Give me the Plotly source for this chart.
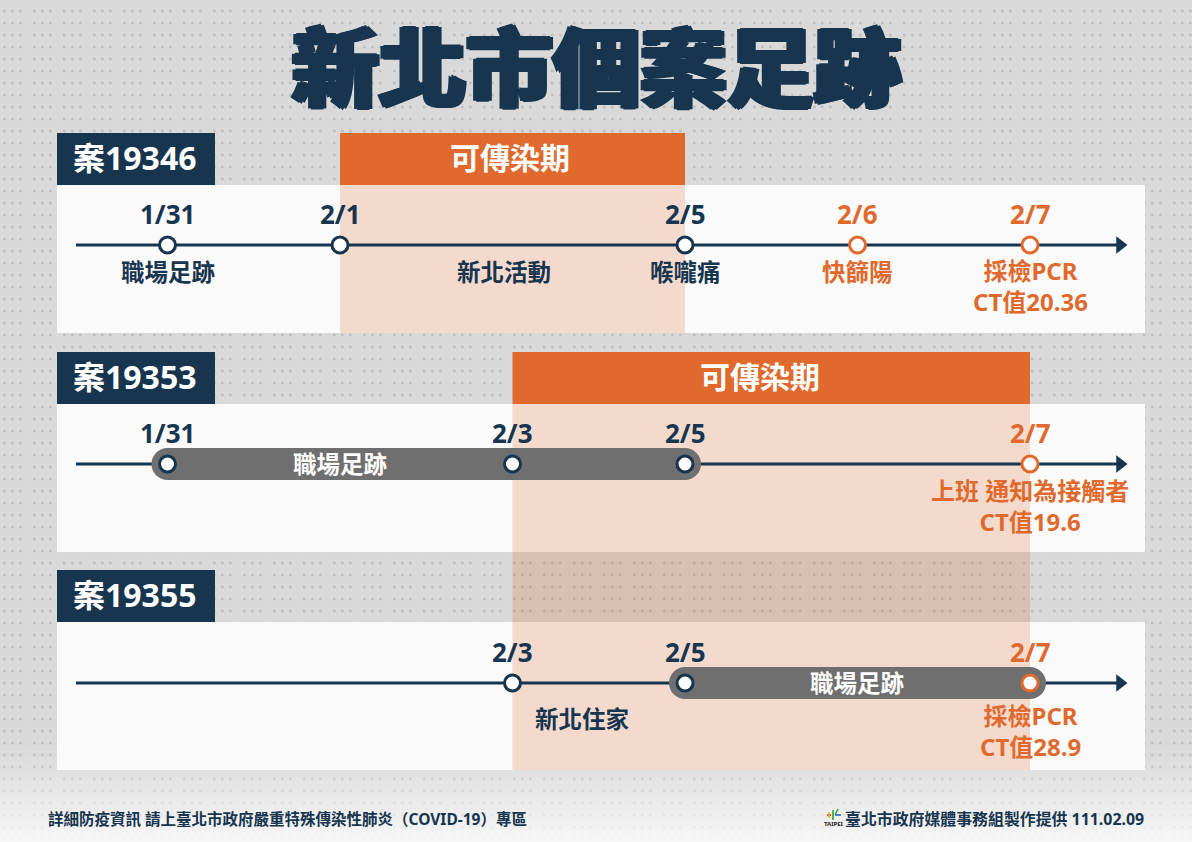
# 新北市個案足跡 timeline infographic
import plotly.graph_objects as go

# Colours
NAVY = "#17354F"
ORANGE = "#E06A2E"
GRAY_PILL = "#6F6F6F"
BG = "#D9D9D9"
PANEL = "#FAFAFA"
BAND = "rgba(224,106,46,0.225)"
DOTS = "#BEBEBE"
FONT = "Noto Sans, Noto Sans CJK TC"

# Data
TITLE = "新北市個案足跡"
BAND_LABEL = "可傳染期"
AXIS_DATES = ["1/31", "2/1", "2/3", "2/5", "2/6", "2/7"]

case_names = ["案19346", "案19353", "案19355"]
case_dates = [
    ["1/31", "2/1", "2/5", "2/6", "2/7"],
    ["1/31", "2/3", "2/5", "2/7"],
    ["2/3", "2/5", "2/7"],
]
# dates whose result came after the infectious window are orange
case_orange = [["2/6", "2/7"], ["2/7"], ["2/7"]]
band_start = ["2/1", "2/3", "2/3"]
band_end = ["2/5", "2/7", "2/7"]
pill_start = [None, "1/31", "2/5"]
pill_end = [None, "2/5", "2/7"]
pill_label = [None, "職場足跡", "職場足跡"]

case1_events = ["職場足跡", "新北活動", "喉嚨痛", "快篩陽", "採檢PCR<br>CT值20.36"]
case2_events = ["上班 通知為接觸者<br>CT值19.6"]
case3_events = ["新北住家", "採檢PCR<br>CT值28.9"]

FOOT_LEFT = "詳細防疫資訊 請上臺北市政府嚴重特殊傳染性肺炎（COVID-19）專區"
FOOT_RIGHT = "臺北市政府媒體事務組製作提供 111.02.09"

# Layout constants (pixels)
W, H = 1192, 842
SLOT0_PX, SLOT_PX = 167.5, 172.5
ROW_Y = [245, 464, 683]
TAG_TOP = [133, 352, 570]
TAG_H = 52
PANEL_H = 148
PANEL_L, PANEL_R = 57, 1145
TAG_R = 215
LINE_L, LINE_R = 76, 1120
PILL_LABEL_PX = [None, 340, 857]
BAND_LABEL_PX = [510, 760]


def slot(date):
    return AXIS_DATES.index(date)


def to_x(px):
    return (px - SLOT0_PX) / SLOT_PX


shapes = []
annotations = []


def rect(x0, x1, y0, y1, color):
    shapes.append(dict(type="rect", xref="x", yref="y", x0=x0, x1=x1, y0=y0, y1=y1,
                       fillcolor=color, line_width=0, layer="below"))


def label(px_or_x, y, text, size, color, xanchor="center", weight=700, in_px=True):
    x = to_x(px_or_x) if in_px else px_or_x
    annotations.append(dict(x=x, y=y, xref="x", yref="y", text=text, showarrow=False,
                            xanchor=xanchor, yanchor="middle", borderpad=0,
                            font=dict(family=FONT, size=size, color=color, weight=weight)))


# dotted background, groups of three dots
dot_path = ""
for k in range(70):
    y = 11 + 12 * k
    dot_path += f"M{to_x(3)},{y}L{to_x(W)},{y}"
shapes.append(dict(type="path", path=dot_path, xref="x", yref="y", layer="below",
                   line=dict(color=DOTS, width=2.6, dash="2.6px,5.4px,2.6px,5.4px,2.6px,11.4px")))

# bottom of the page fades to white
for i in range(24):
    rect(to_x(0), to_x(W), 746 + i * 4, 750 + i * 4 if i < 23 else H, f"rgba(255,255,255,{0.03 + i * 0.032:.3f})")

# white panels and navy tags
for i, name in enumerate(case_names):
    rect(to_x(PANEL_L), to_x(PANEL_R), TAG_TOP[i] + TAG_H, TAG_TOP[i] + TAG_H + PANEL_H, PANEL)
    rect(to_x(PANEL_L), to_x(TAG_R), TAG_TOP[i], TAG_TOP[i] + TAG_H, NAVY)
    label(72, TAG_TOP[i] + 24, name, 32, "white", xanchor="left")

# infectious windows (the second one runs down through case 19355)
for i in range(2):
    x0, x1 = slot(band_start[i]), slot(band_end[i])
    body_end = TAG_TOP[i] + TAG_H + PANEL_H if i == 0 else TAG_TOP[2] + TAG_H + PANEL_H
    rect(x0, x1, TAG_TOP[i] + TAG_H, body_end, BAND)
    rect(x0, x1, TAG_TOP[i], TAG_TOP[i] + TAG_H, ORANGE)
    label(BAND_LABEL_PX[i], TAG_TOP[i] + 24, BAND_LABEL, 30, "white")

fig = go.Figure()

for i in range(3):
    y = ROW_Y[i]
    # axis line with arrow head
    fig.add_trace(go.Scatter(x=[to_x(LINE_L), to_x(LINE_R)], y=[y, y], mode="lines",
                             line=dict(color=NAVY, width=3), hoverinfo="skip"))
    fig.add_trace(go.Scatter(x=[to_x(LINE_R)], y=[y], mode="markers",
                             marker=dict(symbol="triangle-right", size=15, color=NAVY), hoverinfo="skip"))
    # grey pill for a continuous stay
    if pill_start[i]:
        px = [slot(pill_start[i]), slot(pill_end[i])]
        fig.add_trace(go.Scatter(x=px, y=[y, y], mode="lines+markers",
                                 line=dict(color=GRAY_PILL, width=32),
                                 marker=dict(color=GRAY_PILL, size=32), hoverinfo="skip"))
        label(PILL_LABEL_PX[i], y, pill_label[i], 23.5, "white")
    # date nodes
    colors = [ORANGE if d in case_orange[i] else NAVY for d in case_dates[i]]
    fig.add_trace(go.Scatter(x=[slot(d) for d in case_dates[i]], y=[y] * len(case_dates[i]),
                             mode="markers",
                             marker=dict(color="white", size=16, line=dict(color=colors, width=3)),
                             hoverinfo="skip"))
    for d, c in zip(case_dates[i], colors):
        label(slot(d), y - 31, d, 26, c, in_px=False)

# event labels under the line
row = ROW_Y[0] + 27
for text, px, c in zip(case1_events[:4], [168, 504, 685, 857], [NAVY, NAVY, NAVY, ORANGE]):
    label(px, row, text, 23.5, c)
label(1030, row + 14, case1_events[4], 24, ORANGE)

row = ROW_Y[1] + 28
label(1030, row + 14, case2_events[0], 24, ORANGE)

row = ROW_Y[2] + 36
label(582, row, case3_events[0], 23.5, NAVY)
label(1030, row + 12, case3_events[1], 24, ORANGE)

# title, thickened with a tight shadow as the original face is very heavy
annotations.append(dict(x=to_x(596.5), y=67, xref="x", yref="y", text=TITLE, showarrow=False,
                        font=dict(family=FONT, size=87, color=NAVY, weight=900,
                                  shadow=f"3px 0 0 {NAVY}, -3px 0 0 {NAVY}, 0 1px 0 {NAVY}, 0 -1px 0 {NAVY}")))

# footer
label(47, 819, FOOT_LEFT, 15.5, NAVY, xanchor="left")
label(1145, 819, FOOT_RIGHT, 15.9, NAVY, xanchor="right")

# small Taipei logo
for x0, y0, x1, y1, c in [(827, 815, 831, 815, "#D8232A"), (833, 810, 833, 820, "#2F9E44"),
                          (835, 815, 841, 815, "#1F6FB5"), (838, 809, 835, 815, "#2F9E44"),
                          (829, 812, 829, 818, "#F0B400")]:
    shapes.append(dict(type="line", xref="x", yref="y", x0=to_x(x0), x1=to_x(x1), y0=y0, y1=y1,
                       line=dict(color=c, width=1.6), layer="above"))
label(834, 824, "TAIPEI", 6, "#222222")

fig.update_layout(
    width=W, height=H,
    margin=dict(l=0, r=0, t=0, b=0),
    paper_bgcolor=BG, plot_bgcolor=BG,
    showlegend=False,
    shapes=shapes, annotations=annotations,
    xaxis=dict(range=[to_x(0), to_x(W)], visible=False, fixedrange=True),
    yaxis=dict(range=[H, 0], visible=False, fixedrange=True),
)

fig.write_html("out.html", config=dict(displayModeBar=False),
               post_script="document.body.style.margin='0';")
